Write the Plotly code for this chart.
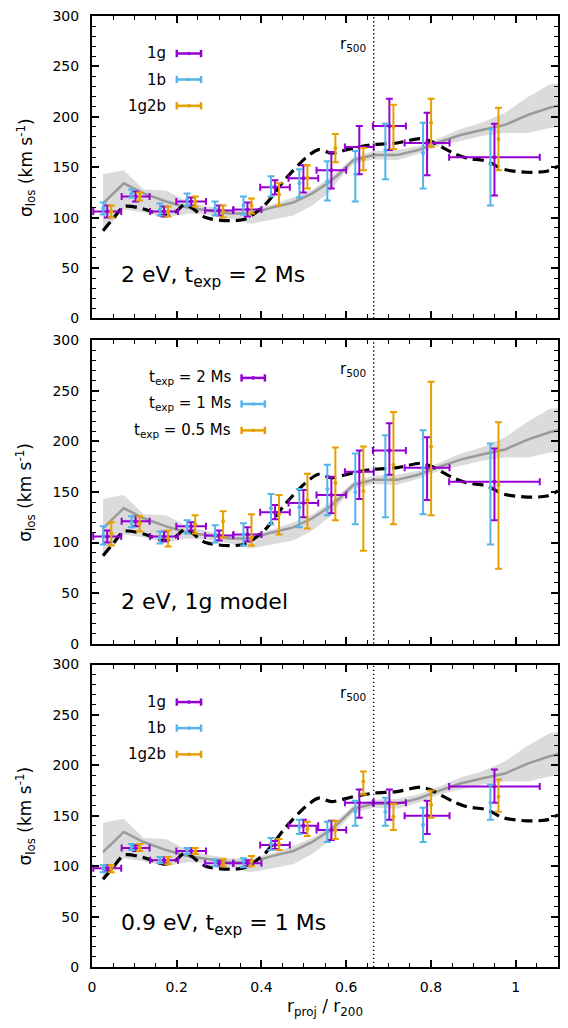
import plotly.graph_objects as go

# ---------------- data ----------------
bin_x = [0.036, 0.103, 0.170, 0.234, 0.300, 0.367, 0.432, 0.499, 0.565, 0.631, 0.702, 0.791, 0.950]
bin_hw = [0.033, 0.033, 0.033, 0.035, 0.033, 0.033, 0.035, 0.035, 0.035, 0.034, 0.039, 0.053, 0.107]

# grey band (mean + scatter) and black dashed reference curve
grey_x = [0.026, 0.075, 0.122, 0.175, 0.225, 0.275, 0.325, 0.375, 0.425, 0.475, 0.52, 0.56, 0.585,
          0.617, 0.665, 0.72, 0.77, 0.82, 0.87, 0.92, 0.975, 1.03, 1.08, 1.1]
grey_mean = [114, 134, 124, 116, 110, 107, 104, 104, 110, 115, 124, 135, 144,
             157, 162, 162, 167, 175, 182, 187, 192, 202, 209, 211]
grey_lo = [85, 108, 105, 100, 104, 103, 99, 94, 98, 102, 112, 125, 139,
           153, 158, 157, 163, 171, 176, 181, 184, 184, 189, 190]
grey_hi = [143, 147, 128, 127, 116, 111, 108, 108, 113, 120, 128, 139, 148,
           160, 166, 167, 171, 179, 188, 194, 204, 220, 232, 233]

dash_x = [0.026, 0.05, 0.076, 0.122, 0.169, 0.195, 0.22, 0.268, 0.323, 0.362, 0.409, 0.456, 0.504,
          0.535, 0.565, 0.617, 0.664, 0.72, 0.775, 0.798, 0.853, 0.885, 0.932, 0.971, 1.027, 1.074, 1.1]
dash_y = [87, 99, 111, 108.5, 102, 105, 113, 100, 97, 98.6, 113, 138, 159,
          167.5, 164, 169, 172.4, 174, 178.4, 176, 164, 159, 156, 148, 145, 146, 151]

# panel 1: 2 eV, t_exp = 2 Ms
p1_1g_y = [106, 121, 106, 116, 107, 108, 130, 139, 147, 170, 191, 174, 160]
p1_1g_lo = [100, 116, 101, 112, 102, 101, 123, 125, 129, 143, 167, 142, 122]
p1_1g_hi = [112, 126, 111, 120, 112, 115, 137, 152, 165, 191, 218, 204, 193]
p1_1b_y = [109, 124, 108, 118, 109, 112, 131, 134, 136, 143, 167, 164, 153]
p1_1b_lo = [103, 120, 102, 112, 102, 103, 121, 120, 117, 116, 138, 129, 112]
p1_1b_hi = [115, 128, 114, 124, 116, 121, 141, 148, 156, 166, 193, 194, 188]
p1_1g2b_y = [106, 121, 106, 116, 106, 112, 123, 140, 169, 158, 190, 194, 178]
p1_1g2b_lo = [100, 117, 101, 111, 100, 104, 112, 129, 155, 147, 168, 170, 147]
p1_1g2b_hi = [112, 125, 111, 121, 112, 119, 134, 152, 183, 169, 212, 218, 209]

# panel 2: 2 eV, 1g model, different exposure times
p2_2ms_y = p1_1g_y
p2_2ms_lo = p1_1g_lo
p2_2ms_hi = p1_1g_hi
p2_1ms_y = [107, 120, 105, 116, 108, 108, 134, 135, 153, 150, 166, 174, 154]
p2_1ms_lo = [98, 115, 99, 109, 100, 97, 118, 115, 127, 118, 125, 128, 98]
p2_1ms_hi = [116, 126, 111, 122, 117, 119, 148, 153, 177, 188, 206, 211, 198]
p2_05ms_y = [109, 119, 104, 118, 121, 105, 128, 142, 159, 151, 177, 195, 157]
p2_05ms_lo = [97, 111, 96, 109, 105, 97, 108, 114, 122, 92, 118, 127, 74]
p2_05ms_hi = [120, 126, 112, 127, 131, 128, 147, 168, 194, 195, 229, 259, 219]

# panel 3: 0.9 eV, t_exp = 1 Ms
p3_1g_y = [98, 118, 106, 115, 103, 103, 121, 140, 136, 163, 163, 150, 179]
p3_1g_lo = [95, 115, 103, 112, 100, 100, 117, 133, 126, 148, 146, 132, 163]
p3_1g_hi = [101, 121, 109, 118, 106, 106, 125, 146, 145, 176, 176, 165, 196]
p3_1b_y = [98, 119, 106, 116, 104, 105, 122, 139, 135, 154, 154, 141, 163]
p3_1b_lo = [94, 116, 103, 112, 100, 99, 116, 132, 124, 140, 140, 124, 146]
p3_1b_hi = [101, 122, 109, 118, 107, 108, 128, 146, 144, 165, 168, 158, 181]
p3_1g2b_y = [97, 118, 105, 115, 103, 105, 122, 137, 136, 184, 149, 161, 169]
p3_1g2b_lo = [94, 115, 102, 112, 100, 100, 116, 130, 127, 171, 136, 148, 154]
p3_1g2b_hi = [101, 122, 109, 118, 107, 110, 127, 144, 145, 194, 162, 175, 186]

r500 = 0.665

panel_labels = ["2 eV, t<sub>exp</sub> = 2 Ms", "2 eV, 1g model", "0.9 eV, t<sub>exp</sub> = 1 Ms"]
legend_names = [["1g", "1b", "1g2b"],
                ["t<sub>exp</sub> = 2 Ms", "t<sub>exp</sub> = 1 Ms", "t<sub>exp</sub> = 0.5 Ms"],
                ["1g", "1b", "1g2b"]]

panels = [
    [(p1_1g_y, p1_1g_lo, p1_1g_hi), (p1_1b_y, p1_1b_lo, p1_1b_hi), (p1_1g2b_y, p1_1g2b_lo, p1_1g2b_hi)],
    [(p2_2ms_y, p2_2ms_lo, p2_2ms_hi), (p2_1ms_y, p2_1ms_lo, p2_1ms_hi), (p2_05ms_y, p2_05ms_lo, p2_05ms_hi)],
    [(p3_1g_y, p3_1g_lo, p3_1g_hi), (p3_1b_y, p3_1b_lo, p3_1b_hi), (p3_1g2b_y, p3_1g2b_lo, p3_1g2b_hi)],
]

# ---------------- style ----------------
colors = ["#9400D3", "#56B4E9", "#E69F00"]
offsets = [0.0, -0.0095, 0.0095]
FONT = "DejaVu Sans"
domains = [[0.682, 1.0], [0.340, 0.659], [0.0, 0.318]]

fig = go.Figure()
shapes = []
annotations = []

for i in range(3):
    n = "" if i == 0 else str(i + 1)
    xa, ya = "x" + n, "y" + n
    # grey band
    fig.add_trace(go.Scatter(x=grey_x, y=grey_hi, mode="lines", line=dict(width=0),
                             hoverinfo="skip", xaxis=xa, yaxis=ya))
    fig.add_trace(go.Scatter(x=grey_x, y=grey_lo, mode="lines", line=dict(width=0),
                             fill="tonexty", fillcolor="rgba(200,200,200,0.65)", hoverinfo="skip", xaxis=xa, yaxis=ya))
    fig.add_trace(go.Scatter(x=grey_x, y=grey_mean, mode="lines",
                             line=dict(color="#9a9a9a", width=2.5),
                             xaxis=xa, yaxis=ya))
    fig.add_trace(go.Scatter(x=dash_x, y=dash_y, mode="lines",
                             line=dict(color="black", width=3.2, dash="11px,6px", shape="spline", smoothing=0.8),
                             xaxis=xa, yaxis=ya))
    for k, (yv, lo, hi) in enumerate(panels[i]):
        xs = [b + offsets[k] for b in bin_x]
        ex = dict(type="data", array=bin_hw, color=colors[k], thickness=2, width=3.5) if k == 0 else None
        fig.add_trace(go.Scatter(
            x=xs, y=yv, mode="markers",
            marker=dict(color=colors[k], size=4),
            error_y=dict(type="data", symmetric=False,
                         array=[h - v for h, v in zip(hi, yv)],
                         arrayminus=[v - l for v, l in zip(yv, lo)],
                         color=colors[k], thickness=2, width=3.5),
            error_x=ex,
            xaxis=xa, yaxis=ya))

    # r500 vertical dotted line
    shapes.append(dict(type="line", xref=xa, yref=ya + " domain", x0=r500, x1=r500, y0=0, y1=1,
                       line=dict(color="black", width=1.3, dash="1.3px,2.7px")))
    annotations.append(dict(text="r<sub>500</sub>", xref=xa + " domain", yref=ya + " domain",
                            x=0.593, y=0.905, xanchor="right", yanchor="middle", showarrow=False,
                            font=dict(family=FONT, size=15, color="black")))
    # panel label
    annotations.append(dict(text=panel_labels[i], xref=xa + " domain", yref=ya + " domain",
                            x=0.058, y=0.14, xanchor="left", yanchor="middle", showarrow=False,
                            font=dict(family=FONT, size=22, color="black")))
    # custom legend
    if i == 1:
        tx, s0, s1 = 0.302, 0.321, 0.371
    else:
        tx, s0, s1 = 0.163, 0.182, 0.234
    for k, yl in enumerate([0.876, 0.79, 0.703]):
        annotations.append(dict(text=legend_names[i][k], xref=xa + " domain", yref=ya + " domain",
                                x=tx, y=yl, xanchor="right", yanchor="middle", showarrow=False,
                                font=dict(family=FONT, size=15, color="black")))
        ln = dict(color=colors[k], width=2.5)
        shapes.append(dict(type="line", xref=xa + " domain", yref=ya + " domain",
                           x0=s0, x1=s1, y0=yl, y1=yl, line=ln))
        for sx in (s0, s1):
            shapes.append(dict(type="line", xref=xa + " domain", yref=ya + " domain",
                               x0=sx, x1=sx, y0=yl - 0.012, y1=yl + 0.012, line=ln))
        cx = (s0 + s1) / 2
        shapes.append(dict(type="circle", xref=xa + " domain", yref=ya + " domain",
                           x0=cx - 0.004, x1=cx + 0.004, y0=yl - 0.006, y1=yl + 0.006,
                           fillcolor=colors[k], line=dict(color=colors[k], width=0)))
    # y title
    annotations.append(dict(text="σ<sub>los</sub> (km s<sup>-1</sup>)", xref="paper", yref="paper",
                            x=-0.142, y=sum(domains[i]) / 2, textangle=-90, showarrow=False,
                            xanchor="center", yanchor="middle",
                            font=dict(family=FONT, size=17, color="black")))

annotations.append(dict(text="r<sub>proj</sub> / r<sub>200</sub>", xref="paper", yref="paper",
                        x=0.5, y=-0.043, xanchor="center", yanchor="middle", showarrow=False,
                        font=dict(family=FONT, size=17, color="black")))

axis_common = dict(showline=True, linecolor="black", linewidth=2, mirror="allticks",
                   ticks="inside", tickcolor="black", tickwidth=1.5, showgrid=False, zeroline=False,
                   tickfont=dict(family=FONT, size=14, color="black"))

layout = dict(width=568, height=1028, margin=dict(l=92, r=10, t=8, b=61),
              paper_bgcolor="white", plot_bgcolor="white", showlegend=False,
              shapes=shapes, annotations=annotations)

for i in range(3):
    n = "" if i == 0 else str(i + 1)
    layout["xaxis" + n] = dict(range=[0, 1.1], dtick=0.2, ticklen=7, anchor="y" + n,
                               showticklabels=(i == 2), ticklabelstandoff=6,
                               minor=dict(ticks="inside", dtick=0.05, ticklen=4, tickcolor="black", tickwidth=1.2),
                               **axis_common)
    layout["yaxis" + n] = dict(range=[0, 300], dtick=50, ticklen=7, anchor="x" + n, domain=domains[i],
                               ticklabelstandoff=8,
                               minor=dict(ticks="inside", dtick=10, ticklen=4, tickcolor="black", tickwidth=1.2),
                               **axis_common)

fig.update_layout(**layout)
fig.write_html("out.html")
